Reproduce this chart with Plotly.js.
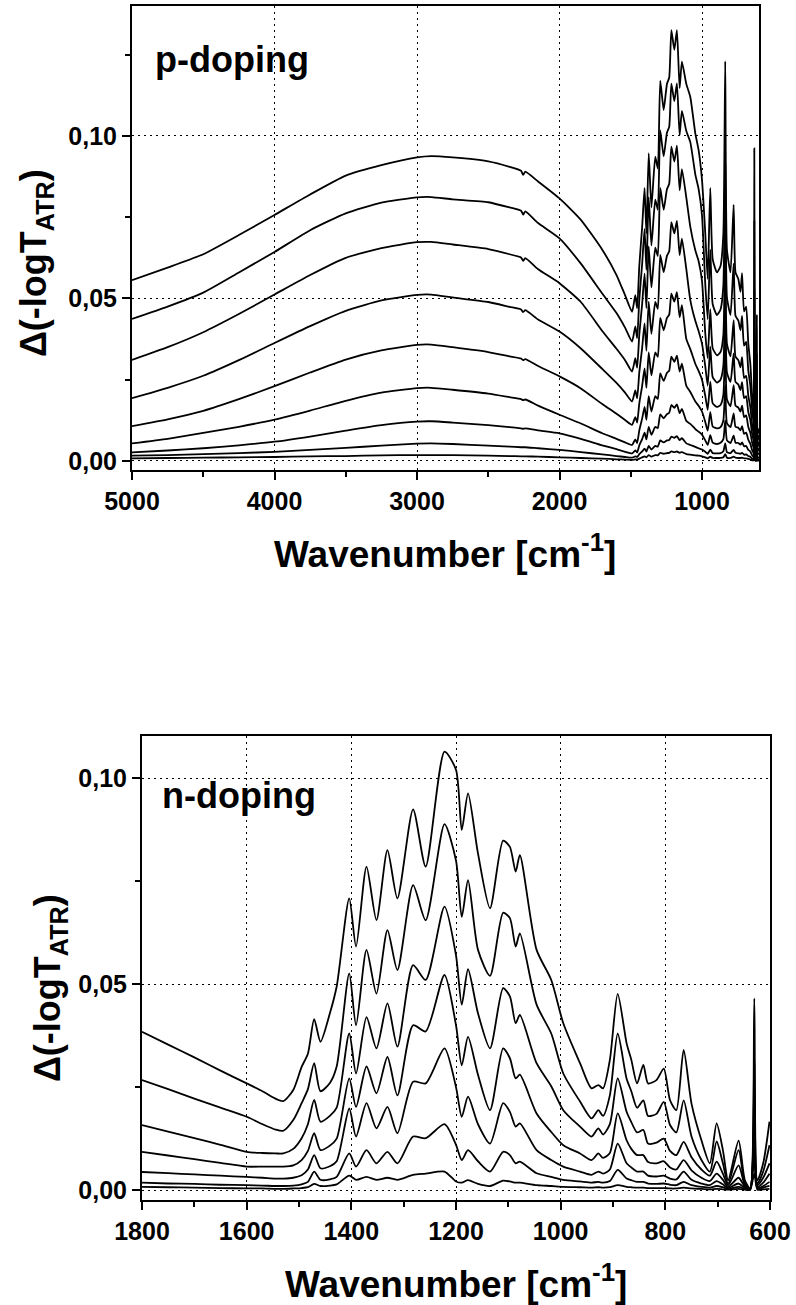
<!DOCTYPE html>
<html>
<head>
<meta charset="utf-8">
<script src="https://cdn.plot.ly/plotly-3.0.1.min.js"></script>
<style>
  html, body { margin: 0; padding: 0; background: #fff; }
  #chart { width: 796px; height: 1305px; }
</style>
</head>
<body>
<div id="chart"></div>
<script>
// ---------------- p-doping panel (top) ----------------
const pWavenumber = [5000,4750,4500,4250,4000,3750,3500,3250,3000,2900,2750,2500,2350,2270,2255,2240,2150,2000,1850,1700,1600,1540,1491,
  1468,1455,1440,1420,1403,1390,1374,1355,1328,1310,1293,1269,1246,1230,1215,1194,1176,1157,1141,1110,1082,1047,1024,1000,977,960,942,925,895,870,850,837,825,800,778,765,745,730,719,705,690,675,661,648,638,633,628,622,615,610,600];

const pCurve1 = [0.0556,0.0595,0.0636,0.0695,0.0757,0.0820,0.0878,0.0910,0.0934,0.0938,0.0934,0.0922,0.0905,0.0893,0.0880,0.0890,0.0860,0.0808,0.0742,0.0650,0.0572,0.0510,0.0459,
  0.0510,0.0470,0.0600,0.0720,0.0840,0.0700,0.0947,0.0780,0.0936,0.0900,0.1170,0.1080,0.1160,0.1180,0.1326,0.1265,0.1326,0.1147,0.1229,0.1160,0.1120,0.1008,0.0957,0.0865,0.0700,0.0560,0.0840,0.0620,0.0580,0.0600,0.0700,0.1230,0.0650,0.0580,0.0788,0.0580,0.0560,0.0520,0.0578,0.0460,0.0475,0.0360,0.0300,0.0200,0.0150,0.0962,0.0150,0.0060,0.0450,0.0080,0.0100];
const pCurve2 = [0.0437,0.0475,0.0518,0.0580,0.0643,0.0710,0.0762,0.0795,0.0811,0.0812,0.0805,0.0796,0.0780,0.0770,0.0758,0.0768,0.0732,0.0685,0.0607,0.0515,0.0455,0.0410,0.0367,
  0.0414,0.0378,0.0497,0.0606,0.0714,0.0588,0.0812,0.0663,0.0804,0.0773,0.1017,0.0937,0.1010,0.1028,0.1161,0.1107,0.1162,0.1002,0.1077,0.1015,0.0981,0.0882,0.0837,0.0756,0.0543,0.0436,0.0650,0.0482,0.0449,0.0466,0.0541,0.0947,0.0503,0.0449,0.0607,0.0447,0.0432,0.0402,0.0446,0.0355,0.0366,0.0278,0.0232,0.0155,0.0117,0.0738,0.0114,0.0045,0.0330,0.0060,0.0080];
const pCurve3 = [0.0311,0.0350,0.0396,0.0452,0.0512,0.0572,0.0625,0.0655,0.0673,0.0674,0.0666,0.0652,0.0636,0.0626,0.0616,0.0624,0.0590,0.0547,0.0489,0.0400,0.0345,0.0310,0.0275,
  0.0316,0.0287,0.0389,0.0483,0.0576,0.0470,0.0661,0.0534,0.0656,0.0630,0.0840,0.0773,0.0836,0.0853,0.0967,0.0921,0.0970,0.0833,0.0898,0.0810,0.0720,0.0648,0.0615,0.0554,0.0392,0.0316,0.0467,0.0347,0.0325,0.0335,0.0388,0.0675,0.0360,0.0322,0.0433,0.0321,0.0310,0.0288,0.0319,0.0255,0.0262,0.0200,0.0166,0.0112,0.0084,0.0524,0.0084,0.0034,0.0200,0.0040,0.0060];
const pCurve4 = [0.0193,0.0225,0.0262,0.0310,0.0363,0.0415,0.0462,0.0494,0.0511,0.0512,0.0503,0.0489,0.0474,0.0466,0.0458,0.0464,0.0435,0.0398,0.0346,0.0283,0.0240,0.0210,0.0183,
  0.0217,0.0193,0.0273,0.0348,0.0423,0.0339,0.0490,0.0391,0.0489,0.0468,0.0634,0.0581,0.0631,0.0645,0.0735,0.0700,0.0739,0.0633,0.0684,0.0590,0.0495,0.0431,0.0400,0.0361,0.0291,0.0232,0.0352,0.0258,0.0241,0.0250,0.0293,0.0518,0.0272,0.0243,0.0331,0.0243,0.0235,0.0218,0.0242,0.0193,0.0199,0.0150,0.0126,0.0083,0.0062,0.0406,0.0062,0.0022,0.0100,0.0028,0.0040];
const pCurve5 = [0.0107,0.0128,0.0154,0.0190,0.0230,0.0272,0.0312,0.0340,0.0357,0.0358,0.0350,0.0335,0.0322,0.0315,0.0310,0.0313,0.0292,0.0260,0.0223,0.0175,0.0145,0.0126,0.0111,
  0.0135,0.0118,0.0177,0.0231,0.0285,0.0225,0.0334,0.0263,0.0334,0.0320,0.0440,0.0402,0.0440,0.0450,0.0515,0.0490,0.0519,0.0442,0.0479,0.0375,0.0344,0.0299,0.0277,0.0250,0.0200,0.0157,0.0244,0.0177,0.0166,0.0172,0.0204,0.0366,0.0189,0.0168,0.0233,0.0170,0.0164,0.0152,0.0170,0.0135,0.0140,0.0104,0.0087,0.0056,0.0041,0.0291,0.0041,0.0014,0.0050,0.0018,0.0025];
const pCurve6 = [0.0054,0.0068,0.0086,0.0105,0.0127,0.0155,0.0185,0.0210,0.0224,0.0225,0.0219,0.0207,0.0196,0.0190,0.0187,0.0189,0.0170,0.0142,0.0115,0.0085,0.0068,0.0057,0.0049,
  0.0066,0.0055,0.0094,0.0130,0.0166,0.0126,0.0199,0.0152,0.0199,0.0191,0.0269,0.0246,0.0271,0.0278,0.0321,0.0305,0.0324,0.0275,0.0299,0.0231,0.0212,0.0183,0.0170,0.0152,0.0120,0.0093,0.0150,0.0106,0.0100,0.0104,0.0125,0.0233,0.0116,0.0104,0.0146,0.0105,0.0102,0.0094,0.0107,0.0083,0.0087,0.0065,0.0053,0.0033,0.0024,0.0188,0.0024,0.0007,0.0025,0.0010,0.0012];
const pCurve7 = [0.0026,0.0032,0.0039,0.0048,0.0059,0.0075,0.0093,0.0110,0.0121,0.0122,0.0118,0.0110,0.0104,0.0100,0.0099,0.0100,0.0094,0.0085,0.0068,0.0048,0.0036,0.0028,0.0023,
  0.0032,0.0026,0.0048,0.0067,0.0087,0.0066,0.0105,0.0080,0.0105,0.0101,0.0143,0.0131,0.0144,0.0148,0.0172,0.0163,0.0174,0.0147,0.0160,0.0123,0.0114,0.0098,0.0090,0.0081,0.0063,0.0049,0.0079,0.0056,0.0052,0.0056,0.0067,0.0125,0.0063,0.0055,0.0078,0.0056,0.0055,0.0050,0.0057,0.0045,0.0046,0.0034,0.0029,0.0017,0.0012,0.0101,0.0012,0.0003,0.0012,0.0005,0.0006];
const pCurve8 = [0.0016,0.0018,0.0021,0.0024,0.0028,0.0034,0.0040,0.0047,0.0053,0.0054,0.0052,0.0047,0.0044,0.0042,0.0042,0.0042,0.0039,0.0034,0.0027,0.0020,0.0015,0.0012,0.0010,
  0.0014,0.0012,0.0021,0.0029,0.0038,0.0029,0.0046,0.0035,0.0046,0.0044,0.0063,0.0057,0.0063,0.0064,0.0075,0.0071,0.0076,0.0064,0.0070,0.0054,0.0049,0.0043,0.0039,0.0035,0.0028,0.0022,0.0035,0.0024,0.0023,0.0024,0.0030,0.0054,0.0027,0.0024,0.0034,0.0025,0.0023,0.0022,0.0025,0.0019,0.0020,0.0015,0.0013,0.0007,0.0005,0.0044,0.0005,0.0001,0.0005,0.0002,0.0003];
const pCurve9 = [0.0008,0.0009,0.0010,0.0011,0.0012,0.0014,0.0015,0.0017,0.0018,0.0018,0.0018,0.0016,0.0015,0.0014,0.0014,0.0014,0.0013,0.0011,0.0009,0.0007,0.0005,0.0004,0.0003,
  0.0005,0.0004,0.0007,0.0011,0.0014,0.0011,0.0018,0.0013,0.0018,0.0017,0.0025,0.0022,0.0024,0.0025,0.0029,0.0027,0.0029,0.0025,0.0027,0.0021,0.0019,0.0017,0.0016,0.0014,0.0011,0.0008,0.0013,0.0009,0.0009,0.0009,0.0011,0.0021,0.0010,0.0009,0.0013,0.0010,0.0009,0.0009,0.0010,0.0008,0.0008,0.0006,0.0005,0.0002,0.0002,0.0017,0.0002,0.0000,0.0002,0.0001,0.0001];

const pXTicks = [5000,4000,3000,2000,1000];
const pXTickText = ['5000','4000','3000','2000','1000'];
const pXMinor = [4500,3500,2500,1500];
const pYTicks = [0,0.05,0.10];
const pYTickText = ['0,00','0,05','0,10'];
const pYMinor = [0.025,0.075,0.125];

// ---------------- n-doping panel (bottom) ----------------
const nWavenumber = [1800,1750,1700,1650,1600,1570,1545,1530,1511,1495,1483,1471,1459,1441,1428,1404,1391,1371,1352,1331,1312,1282,1258,1222,1200,1189,1177,1158,1135,1110,1097,1086,1078,1046,1018,995,963,941,928,919,906,891,874,865,854,842,833,817,803,791,779,765,750,731,715,702,690,680,660,648,638,630,624,613,601];

const nCurve1 = [0.0384,0.0353,0.0322,0.0290,0.0259,0.0240,0.0222,0.0216,0.0243,0.0299,0.0331,0.0415,0.0360,0.0429,0.0494,0.0708,0.0591,0.0785,0.0655,0.0825,0.0708,0.0924,0.0785,0.1064,0.1020,0.0874,0.0963,0.0817,0.0684,0.0848,0.0833,0.0773,0.0813,0.0583,0.0510,0.0405,0.0308,0.0247,0.0255,0.0247,0.0316,0.0476,0.0356,0.0316,0.0259,0.0304,0.0259,0.0267,0.0295,0.0218,0.0194,0.0340,0.0210,0.0121,0.0065,0.0162,0.0097,0.0024,0.0120,0.0024,0.0004,0.0465,0.0024,0.0065,0.0166];
const nCurve2 = [0.0267,0.0245,0.0222,0.0200,0.0178,0.0160,0.0147,0.0144,0.0170,0.0211,0.0245,0.0308,0.0240,0.0260,0.0300,0.0526,0.0400,0.0583,0.0477,0.0631,0.0534,0.0740,0.0655,0.0888,0.0800,0.0663,0.0752,0.0583,0.0520,0.0673,0.0660,0.0591,0.0623,0.0450,0.0380,0.0283,0.0215,0.0174,0.0194,0.0180,0.0230,0.0380,0.0270,0.0240,0.0200,0.0218,0.0180,0.0185,0.0214,0.0158,0.0140,0.0218,0.0130,0.0073,0.0045,0.0118,0.0065,0.0016,0.0097,0.0016,0.0004,0.0330,0.0016,0.0045,0.0109];
const nCurve3 = [0.0158,0.0142,0.0126,0.0110,0.0093,0.0090,0.0089,0.0089,0.0100,0.0126,0.0160,0.0219,0.0166,0.0180,0.0200,0.0380,0.0283,0.0420,0.0344,0.0453,0.0348,0.0546,0.0510,0.0688,0.0570,0.0450,0.0536,0.0429,0.0344,0.0490,0.0470,0.0405,0.0425,0.0308,0.0252,0.0194,0.0154,0.0130,0.0150,0.0135,0.0160,0.0271,0.0190,0.0165,0.0140,0.0146,0.0113,0.0115,0.0125,0.0095,0.0085,0.0117,0.0080,0.0050,0.0035,0.0069,0.0040,0.0012,0.0060,0.0012,0.0003,0.0250,0.0012,0.0030,0.0065];
const nCurve4 = [0.0093,0.0084,0.0075,0.0066,0.0057,0.0057,0.0057,0.0057,0.0060,0.0073,0.0095,0.0138,0.0097,0.0108,0.0125,0.0271,0.0202,0.0300,0.0235,0.0323,0.0230,0.0400,0.0385,0.0522,0.0400,0.0303,0.0372,0.0280,0.0194,0.0344,0.0320,0.0271,0.0280,0.0186,0.0141,0.0109,0.0089,0.0073,0.0089,0.0078,0.0090,0.0186,0.0121,0.0100,0.0085,0.0085,0.0068,0.0065,0.0070,0.0055,0.0050,0.0073,0.0048,0.0030,0.0022,0.0040,0.0025,0.0008,0.0030,0.0008,0.0002,0.0180,0.0008,0.0018,0.0040];
const nCurve5 = [0.0044,0.0041,0.0038,0.0035,0.0032,0.0030,0.0028,0.0028,0.0030,0.0036,0.0050,0.0085,0.0053,0.0058,0.0070,0.0198,0.0130,0.0211,0.0150,0.0202,0.0138,0.0263,0.0259,0.0344,0.0250,0.0178,0.0227,0.0160,0.0113,0.0211,0.0190,0.0154,0.0162,0.0097,0.0073,0.0057,0.0045,0.0037,0.0045,0.0040,0.0050,0.0113,0.0065,0.0055,0.0045,0.0045,0.0035,0.0033,0.0035,0.0028,0.0026,0.0045,0.0025,0.0016,0.0012,0.0022,0.0014,0.0005,0.0016,0.0005,0.0002,0.0120,0.0005,0.0010,0.0020];
const nCurve6 = [0.0018,0.0016,0.0015,0.0013,0.0012,0.0011,0.0010,0.0010,0.0011,0.0014,0.0020,0.0045,0.0025,0.0026,0.0032,0.0089,0.0057,0.0097,0.0065,0.0093,0.0065,0.0130,0.0126,0.0160,0.0110,0.0073,0.0097,0.0070,0.0045,0.0093,0.0085,0.0065,0.0069,0.0041,0.0032,0.0025,0.0021,0.0018,0.0020,0.0018,0.0022,0.0049,0.0028,0.0024,0.0020,0.0020,0.0016,0.0015,0.0016,0.0013,0.0012,0.0020,0.0012,0.0008,0.0006,0.0010,0.0007,0.0003,0.0008,0.0003,0.0001,0.0080,0.0003,0.0006,0.0010];
const nCurve7 = [0.0008,0.0007,0.0006,0.0005,0.0004,0.0004,0.0003,0.0003,0.0004,0.0005,0.0007,0.0015,0.0010,0.0011,0.0014,0.0035,0.0025,0.0032,0.0025,0.0030,0.0025,0.0037,0.0040,0.0045,0.0021,0.0018,0.0024,0.0015,0.0010,0.0023,0.0021,0.0018,0.0018,0.0012,0.0010,0.0008,0.0007,0.0006,0.0007,0.0006,0.0007,0.0012,0.0008,0.0007,0.0006,0.0006,0.0005,0.0005,0.0005,0.0004,0.0004,0.0006,0.0004,0.0003,0.0002,0.0003,0.0002,0.0001,0.0003,0.0001,0.0001,0.0040,0.0001,0.0002,0.0003];

const nXTicks = [1800,1600,1400,1200,1000,800,600];
const nXTickText = ['1800','1600','1400','1200','1000','800','600'];
const nXMinor = [1700,1500,1300,1100,900,700];
const nYTicks = [0,0.05,0.10];
const nYTickText = ['0,00','0,05','0,10'];
const nYMinor = [0.025,0.075];

const panelLabels = ['p-doping', 'n-doping'];
const xTitleText = 'Wavenumber [cm<sup>-1</sup>]';
const yTitleText = '\u0394(-logT<sub>ATR</sub>)';

// ---------------- build figure ----------------
const FONT = 'Liberation Sans, Arial, Helvetica, sans-serif';
const W = 796, H = 1305;
const px = v => v / W;
const py = v => 1 - v / H;

const traces = [];
[pCurve1,pCurve2,pCurve3,pCurve4,pCurve5,pCurve6,pCurve7,pCurve8,pCurve9].forEach(c => {
  traces.push({type:'scatter', mode:'lines', x:pWavenumber, y:c, xaxis:'x', yaxis:'y',
    line:{color:'#000', width:1.8, shape:'spline', smoothing:0.5}, hoverinfo:'skip', showlegend:false});
});
[nCurve1,nCurve2,nCurve3,nCurve4,nCurve5,nCurve6,nCurve7].forEach(c => {
  traces.push({type:'scatter', mode:'lines', x:nWavenumber, y:c, xaxis:'x2', yaxis:'y2',
    line:{color:'#000', width:1.8, shape:'spline', smoothing:0.7}, hoverinfo:'skip', showlegend:false});
});

function axis(extra) {
  return Object.assign({
    showline:true, linewidth:2, linecolor:'#000', mirror:true,
    ticks:'outside', ticklen:8, tickwidth:2, tickcolor:'#000',
    showgrid:true, gridcolor:'#000', gridwidth:1, griddash:'2px,4px',
    zeroline:false, tickmode:'array',
    tickfont:{family:FONT, size:25, color:'#000', weight:'bold'},
    fixedrange:true
  }, extra);
}
function minor(vals) {
  return {tickmode:'array', tickvals:vals, ticks:'outside', ticklen:5, tickwidth:2, tickcolor:'#000', showgrid:false};
}

const layout = {
  width:W, height:H,
  margin:{l:0, r:0, t:0, b:0},
  paper_bgcolor:'#fff', plot_bgcolor:'#fff',
  showlegend:false,
  xaxis: axis({domain:[px(132), px(759)], anchor:'y', range:[5000,600],
    tickvals:pXTicks, ticktext:pXTickText, minor:minor(pXMinor)}),
  yaxis: axis({domain:[py(470), py(6)], anchor:'x', range:[-0.0028,0.140],
    tickvals:pYTicks, ticktext:pYTickText, minor:minor(pYMinor)}),
  xaxis2: axis({domain:[px(142), px(770)], anchor:'y2', range:[1800,600],
    tickvals:nXTicks, ticktext:nXTickText, minor:minor(nXMinor)}),
  yaxis2: axis({domain:[py(1200), py(736)], anchor:'x2', range:[-0.0024,0.1102],
    tickvals:nYTicks, ticktext:nYTickText, minor:minor(nYMinor)}),
  annotations: [
    {text:panelLabels[0], xref:'paper', yref:'paper', x:px(153), y:py(60), xanchor:'left', yanchor:'middle',
      showarrow:false, font:{family:FONT, size:36, color:'#000', weight:'bold'}},
    {text:panelLabels[1], xref:'paper', yref:'paper', x:px(160), y:py(795), xanchor:'left', yanchor:'middle',
      showarrow:false, font:{family:FONT, size:36, color:'#000', weight:'bold'}},
    {text:xTitleText, xref:'paper', yref:'paper', x:px(445), y:py(551), xanchor:'center', yanchor:'middle',
      showarrow:false, font:{family:FONT, size:37, color:'#000', weight:'bold'}},
    {text:xTitleText, xref:'paper', yref:'paper', x:px(456), y:py(1281), xanchor:'center', yanchor:'middle',
      showarrow:false, font:{family:FONT, size:37, color:'#000', weight:'bold'}},
    {text:yTitleText, xref:'paper', yref:'paper', x:px(36), y:py(263), xanchor:'center', yanchor:'middle', textangle:-90,
      showarrow:false, font:{family:FONT, size:36, color:'#000', weight:'bold'}},
    {text:yTitleText, xref:'paper', yref:'paper', x:px(50), y:py(988), xanchor:'center', yanchor:'middle', textangle:-90,
      showarrow:false, font:{family:FONT, size:36, color:'#000', weight:'bold'}}
  ]
};

Plotly.newPlot('chart', traces, layout, {staticPlot:true, displayModeBar:false, responsive:false});
</script>
</body>
</html>
